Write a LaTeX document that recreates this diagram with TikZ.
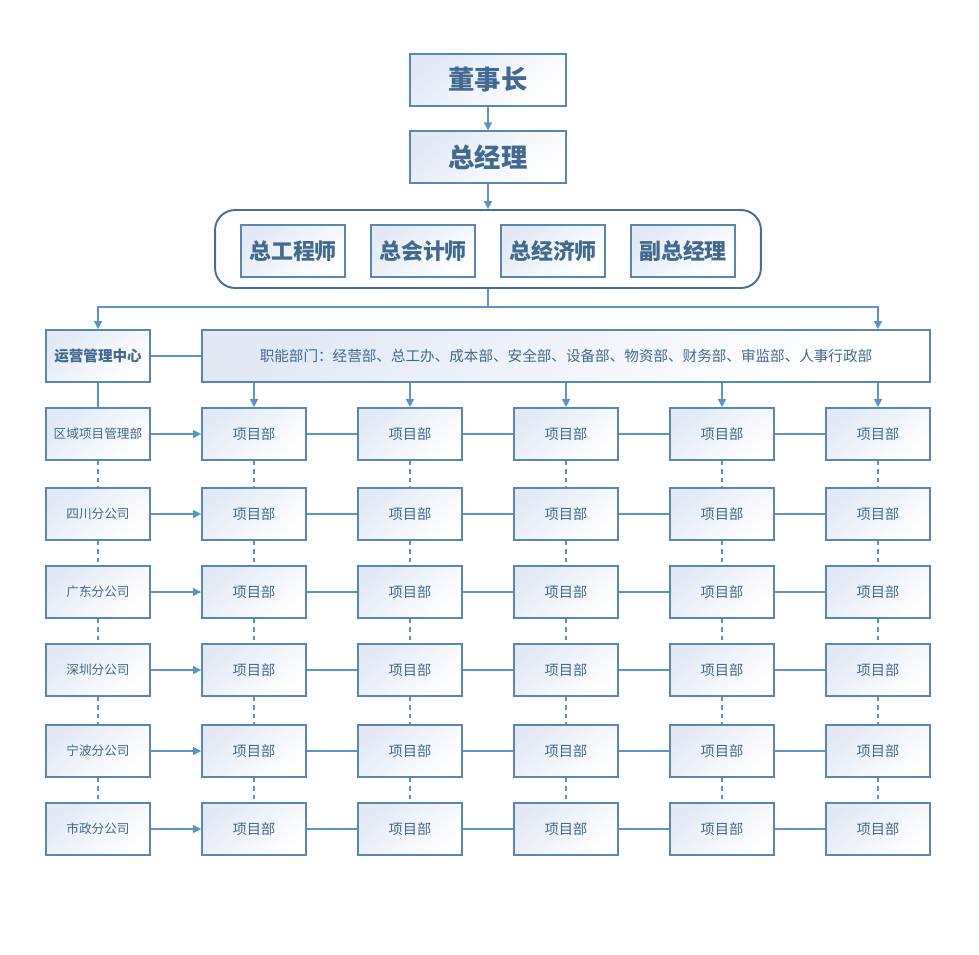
\documentclass[tikz,border=0pt]{standalone}
\usepackage{fontspec}
\setmainfont{Noto Sans CJK SC}
\usetikzlibrary{arrows.meta}
\definecolor{boxline}{HTML}{5A87B2}
\definecolor{grpline}{HTML}{466F98}
\definecolor{linkline}{HTML}{5B94C8}
\definecolor{boxtext}{HTML}{42698F}
\definecolor{boxfill}{HTML}{E2E9F5}
\tikzset{
  box/.style={draw=boxline, line width=1.1pt, shading=axis, top color=boxfill, bottom color=white,
    shading angle=40, text=boxtext, inner sep=0pt, minimum width=2.08cm, minimum height=1.04cm},
  topbox/.style={box, minimum width=3.12cm, minimum height=1.03cm, font=\fontsize{15}{18}\selectfont\bfseries},
  vicebox/.style={box, font=\fontsize{12.5}{15}\selectfont\bfseries},
  grpbox/.style={draw=grpline, line width=1.1pt, rounded corners=0.4cm, inner sep=0pt,
    minimum width=10.92cm, minimum height=1.56cm},
  unitbox/.style={box, font=\fontsize{8.1}{10}\selectfont},
  branchbox/.style={box, font=\fontsize{7.2}{9}\selectfont},
  link/.style={draw=linkline, line width=0.85pt},
  arrowlink/.style={link, -{Triangle[length=4.5pt,width=4.5pt]}},
  dashlink/.style={link, dash pattern=on 2.4pt off 2.4pt}
}
\begin{document}
\begin{tikzpicture}[x=0.02cm, y=-0.02cm]
  \useasboundingbox (0,0) rectangle (979,954);
  \draw
    (488,80) node[topbox] (chair){董事长}
    (488,157) node[topbox] (gm){总经理}
    (488,249) node[grpbox] (grp){};
  \draw
    (293,251) node[vicebox] (cg1){总工程师}
    (423,251) node[vicebox] (cg2){总会计师}
    (553,251) node[vicebox] (cg3){总经济师}
    (683,251) node[vicebox] (cg4){副总经理};
  \coordinate (split) at (488,307);
  \draw
    (98,356) node[unitbox, font=\fontsize{8.3}{10}\selectfont\bfseries] (ops){运营管理中心}
    (566,356) node[unitbox, minimum width=14.56cm, font=\fontsize{8.3}{10}\selectfont] (func){职能部门：经营部、总工办、成本部、安全部、设备部、物资部、财务部、审监部、人事行政部};
  \draw
    (98,434) node[branchbox] (r1){区域项目管理部}
    (98,514) node[branchbox] (r2){四川分公司}
    (98,592) node[branchbox] (r3){广东分公司}
    (98,670) node[branchbox] (r4){深圳分公司}
    (98,751) node[branchbox] (r5){宁波分公司}
    (98,829) node[branchbox] (r6){市政分公司};
  \draw
    (254,434) node[unitbox] (p11){项目部}
    (410,434) node[unitbox] (p12){项目部}
    (566,434) node[unitbox] (p13){项目部}
    (722,434) node[unitbox] (p14){项目部}
    (878,434) node[unitbox] (p15){项目部}
    (254,514) node[unitbox] (p21){项目部}
    (410,514) node[unitbox] (p22){项目部}
    (566,514) node[unitbox] (p23){项目部}
    (722,514) node[unitbox] (p24){项目部}
    (878,514) node[unitbox] (p25){项目部}
    (254,592) node[unitbox] (p31){项目部}
    (410,592) node[unitbox] (p32){项目部}
    (566,592) node[unitbox] (p33){项目部}
    (722,592) node[unitbox] (p34){项目部}
    (878,592) node[unitbox] (p35){项目部}
    (254,670) node[unitbox] (p41){项目部}
    (410,670) node[unitbox] (p42){项目部}
    (566,670) node[unitbox] (p43){项目部}
    (722,670) node[unitbox] (p44){项目部}
    (878,670) node[unitbox] (p45){项目部}
    (254,751) node[unitbox] (p51){项目部}
    (410,751) node[unitbox] (p52){项目部}
    (566,751) node[unitbox] (p53){项目部}
    (722,751) node[unitbox] (p54){项目部}
    (878,751) node[unitbox] (p55){项目部}
    (254,829) node[unitbox] (p61){项目部}
    (410,829) node[unitbox] (p62){项目部}
    (566,829) node[unitbox] (p63){项目部}
    (722,829) node[unitbox] (p64){项目部}
    (878,829) node[unitbox] (p65){项目部};
  \begin{scope}[arrowlink]
    \draw (chair) to (gm);
    \draw (gm) to (grp);
    \draw (split) -| (ops);
    \draw (split) -| (p15 |- func.north);
    \draw (func.south -| p11) to (p11);
    \draw (func.south -| p12) to (p12);
    \draw (func.south -| p13) to (p13);
    \draw (func.south -| p14) to (p14);
    \draw (func.south -| p15) to (p15);
    \draw (r1) to (p11);
    \draw (r2) to (p21);
    \draw (r3) to (p31);
    \draw (r4) to (p41);
    \draw (r5) to (p51);
    \draw (r6) to (p61);
  \end{scope}
  \begin{scope}[link]
    \draw (grp) to (split);
    \draw (ops) to (func);
    \draw (ops) to (r1);
    \draw (p11) -- (p12) -- (p13) -- (p14) -- (p15);
    \draw (p21) -- (p22) -- (p23) -- (p24) -- (p25);
    \draw (p31) -- (p32) -- (p33) -- (p34) -- (p35);
    \draw (p41) -- (p42) -- (p43) -- (p44) -- (p45);
    \draw (p51) -- (p52) -- (p53) -- (p54) -- (p55);
    \draw (p61) -- (p62) -- (p63) -- (p64) -- (p65);
  \end{scope}
  \begin{scope}[dashlink]
    \draw (r1) -- (r2) -- (r3) -- (r4) -- (r5) -- (r6);
    \draw (p11) -- (p21) -- (p31) -- (p41) -- (p51) -- (p61);
    \draw (p12) -- (p22) -- (p32) -- (p42) -- (p52) -- (p62);
    \draw (p13) -- (p23) -- (p33) -- (p43) -- (p53) -- (p63);
    \draw (p14) -- (p24) -- (p34) -- (p44) -- (p54) -- (p64);
    \draw (p15) -- (p25) -- (p35) -- (p45) -- (p55) -- (p65);
  \end{scope}
\end{tikzpicture}
\end{document}
